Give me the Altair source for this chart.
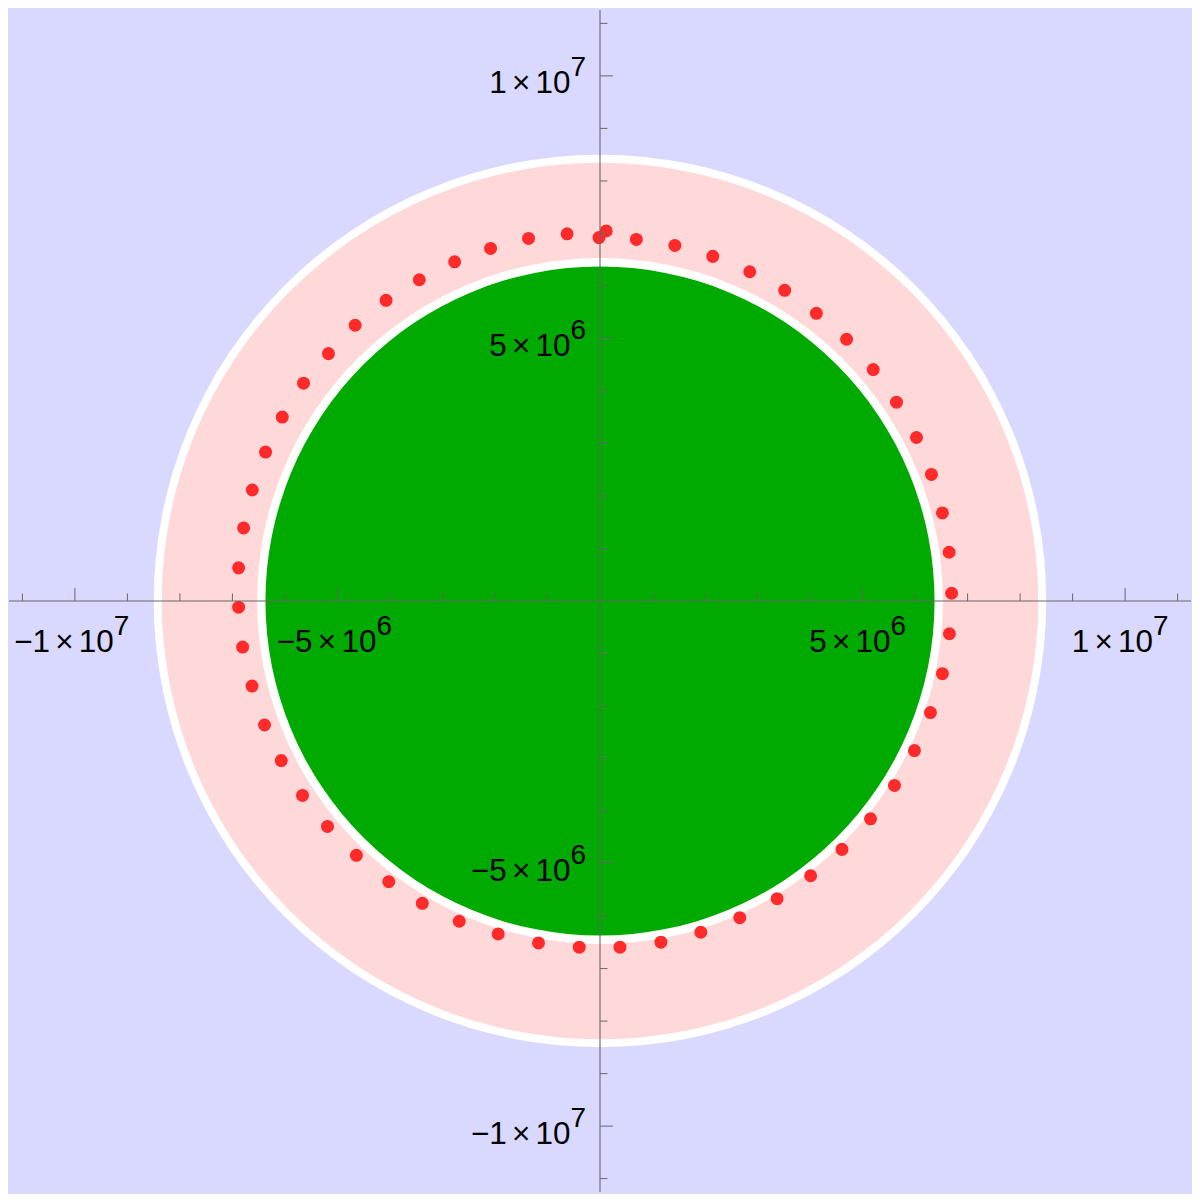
import altair as alt
import pandas as pd

# ---------------- data ----------------
# orbit points (units: 1e6 m)
dot_x_m = [-0.019, -0.627, -1.361, -2.084, -2.768, -3.441, -4.074, -4.663, -5.171, -5.646,
           -6.051, -6.369, -6.622, -6.787, -6.882, -6.882, -6.806, -6.627, -6.388, -6.070,
           -5.665, -5.190, -4.639, -4.023, -3.384, -2.681, -1.939, -1.171, -0.395, 0.380,
           1.160, 1.920, 2.662, 3.373, 4.011, 4.608, 5.152, 5.608, 5.988, 6.293,
           6.521, 6.654, 6.696, 6.648, 6.521, 6.312, 6.027, 5.646, 5.203, 4.696,
           4.120, 3.517, 2.852, 2.148, 1.426, 0.692, 0.118]
dot_y_m = [6.920, 6.992, 6.905, 6.715, 6.460, 6.118, 5.726, 5.251, 4.711, 4.148,
           3.502, 2.836, 2.114, 1.392, 0.631, -0.118, -0.878, -1.620, -2.361, -3.038,
           -3.703, -4.293, -4.844, -5.346, -5.757, -6.099, -6.340, -6.511, -6.593, -6.593,
           -6.498, -6.308, -6.030, -5.669, -5.232, -4.730, -4.148, -3.513, -2.848, -2.125,
           -1.384, -0.624, 0.148, 0.928, 1.677, 2.411, 3.114, 3.787, 4.407, 4.985,
           5.479, 5.916, 6.270, 6.563, 6.772, 6.886, 7.047]

# filled discs centred on the origin (radius in m), drawn largest first
disc_r = [8.498e6, 8.346e6, 6.530e6, 6.371e6]
disc_fill = ["#FFFFFF", "#FFD9D9", "#FFFFFF", "#00AA00"]

major_ticks = [-1e7, -5e6, 5e6, 1e7]
minor_ticks = [k * 1e6 for k in range(-11, 12) if k % 5 != 0]
sp = "\u2006"
label_base = ["\u2212" + "1" + sp + "\u00d7" + sp + "10",
              "\u2212" + "5" + sp + "\u00d7" + sp + "10",
              "5" + sp + "\u00d7" + sp + "10",
              "1" + sp + "\u00d7" + sp + "10"]
label_exp = ["7", "6", "6", "7"]

# ---------------- frames ----------------
dots = pd.DataFrame({"x": [v * 1e6 for v in dot_x_m], "y": [v * 1e6 for v in dot_y_m]})
discs = pd.DataFrame({"r": disc_r, "fill": disc_fill, "cx": 0.0, "cy": 0.0})
majors = pd.DataFrame({"v": major_ticks, "z": 0.0})
minors = pd.DataFrame({"v": minor_ticks, "z": 0.0})
labels = pd.DataFrame({"v": major_ticks, "base": label_base, "exp": label_exp, "z": 0.0})
zero_df = pd.DataFrame({"z": [0.0]})

W = 1184
HALF = W / 2
XMAX = HALF / 526 * 1e7
xs = alt.Scale(domain=[-XMAX, XMAX], nice=False, zero=False)
ys = alt.Scale(domain=[-XMAX, XMAX], nice=False, zero=False)
AX = "#666666"
FONT = "Liberation Sans"


def X(f):
    return alt.X(f, scale=xs, axis=None)


def Y(f):
    return alt.Y(f, scale=ys, axis=None)


disc_layer = alt.Chart(discs).mark_circle(opacity=1, strokeWidth=0).encode(
    x=X("cx:Q"),
    y=Y("cy:Q"),
    size=alt.Size("r:Q", scale=alt.Scale(type="pow", exponent=2, domain=[0, XMAX],
                                         range=[0, (2 * HALF) ** 2]), legend=None),
    color=alt.Color("fill:N", scale=None),
)

dot_layer = alt.Chart(dots).mark_circle(size=170, color="#FF2A2A", opacity=1).encode(
    x=X("x:Q"), y=Y("y:Q")
)

xaxis_line = alt.Chart(zero_df).mark_rule(color=AX, strokeWidth=1.1).encode(y=Y("z:Q"))
yaxis_line = alt.Chart(zero_df).mark_rule(color=AX, strokeWidth=1.1).encode(x=X("z:Q"))


def xticks(df, length):
    return alt.Chart(df).mark_rule(color=AX, strokeWidth=1, y2Offset=-length).encode(
        x=X("v:Q"), y=Y("z:Q"), y2="z:Q"
    )


def yticks(df, length):
    return alt.Chart(df).mark_rule(color=AX, strokeWidth=1, x2Offset=length).encode(
        y=Y("v:Q"), x=X("z:Q"), x2="z:Q"
    )


lab = alt.Chart(labels)
BASE_FS = 31.5
EXP_FS = 28
txt = dict(baseline="alphabetic", font=FONT, color="black")

xlab_pos_base = lab.transform_filter("datum.v > 0").mark_text(
    align="right", dx=28, dy=51.5, fontSize=BASE_FS, **txt
).encode(x=X("v:Q"), y=Y("z:Q"), text="base:N")
xlab_pos_exp = lab.transform_filter("datum.v > 0").mark_text(
    align="left", dx=28, dy=34.5, fontSize=EXP_FS, **txt
).encode(x=X("v:Q"), y=Y("z:Q"), text="exp:N")
xlab_neg_base = lab.transform_filter("datum.v < 0").mark_text(
    align="right", dx=39, dy=51.5, fontSize=BASE_FS, **txt
).encode(x=X("v:Q"), y=Y("z:Q"), text="base:N")
xlab_neg_exp = lab.transform_filter("datum.v < 0").mark_text(
    align="left", dx=39, dy=34.5, fontSize=EXP_FS, **txt
).encode(x=X("v:Q"), y=Y("z:Q"), text="exp:N")

ylab_base = lab.mark_text(
    align="right", dx=-29.5, dy=17.5, fontSize=BASE_FS, **txt
).encode(y=Y("v:Q"), x=X("z:Q"), text="base:N")
ylab_exp = lab.mark_text(
    align="left", dx=-29.5, dy=0.5, fontSize=EXP_FS, **txt
).encode(y=Y("v:Q"), x=X("z:Q"), text="exp:N")

chart = alt.layer(
    disc_layer, dot_layer,
    xaxis_line, yaxis_line,
    xticks(minors, 7.5), xticks(majors, 13),
    yticks(minors, 7.5), yticks(majors, 13),
    xlab_pos_base, xlab_pos_exp, xlab_neg_base, xlab_neg_exp,
    ylab_base, ylab_exp,
).properties(
    width=W, height=W, background="#D9D9FF", padding=0
).configure_view(strokeWidth=0)

chart.save("out.html", embed_options={"renderer": "svg", "actions": False})
